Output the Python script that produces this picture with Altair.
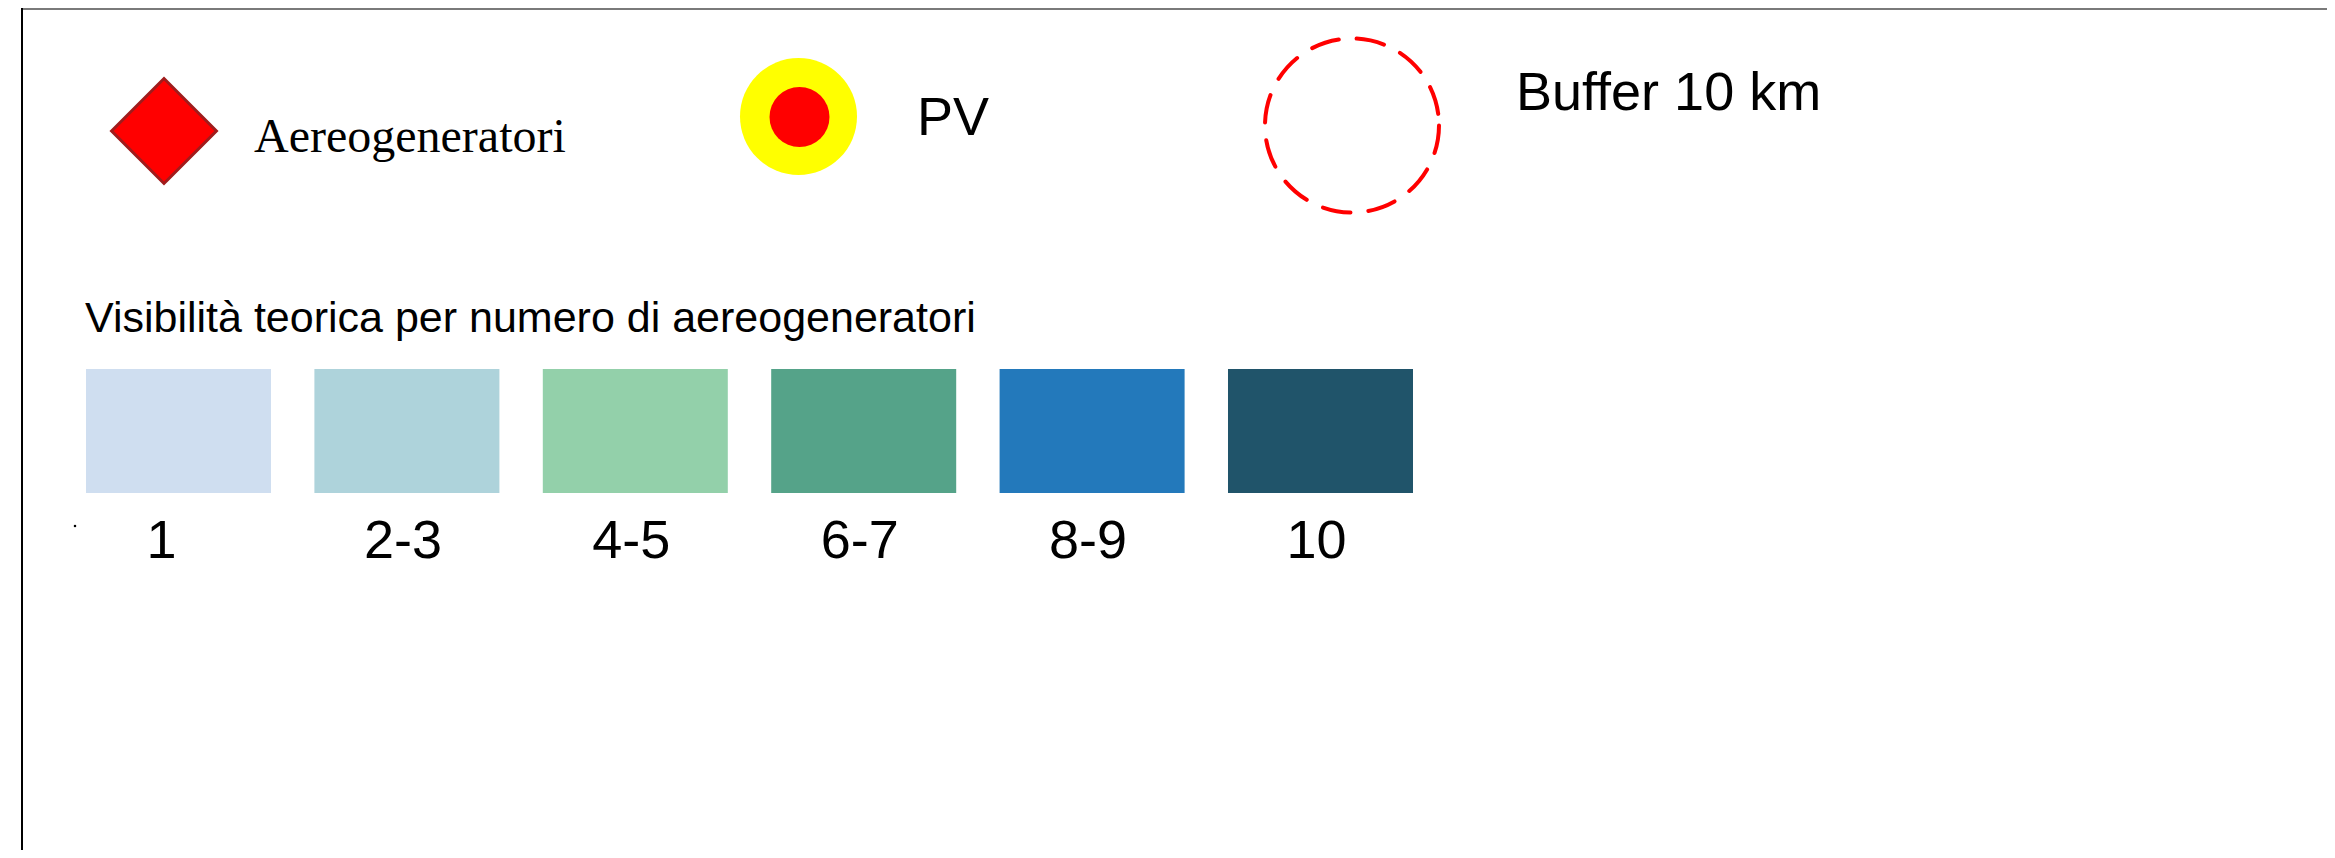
import altair as alt
import pandas as pd

# ---- content ----
classes = ["1", "2-3", "4-5", "6-7", "8-9", "10"]
class_colors = ["#cfdef0", "#aed3db", "#93d0aa", "#55a389", "#2379bb", "#20546a"]
title_text = ["Visibilità teorica per numero di aereogeneratori"]
wind_label = ["Aereogeneratori"]
pv_label = ["PV"]
buffer_label = ["Buffer 10 km"]

W, H = 2319, 842
SANS = "Liberation Sans"
SERIF = "Liberation Serif"

swatch_df = pd.DataFrame({"classe": classes})
one = lambda lst: pd.DataFrame({"label": lst})

xband = alt.X(
    "classe:N", sort=classes, axis=None,
    scale=alt.Scale(domain=classes, range=[78, 1405], paddingInner=0.19, paddingOuter=0),
)

# frame
frame_top = alt.Chart(one(["top"])).mark_rule(color="#7a7a7a", strokeWidth=2).encode(
    x=alt.value(14), x2=alt.value(W), y=alt.value(1)
)
frame_left = alt.Chart(one(["left"])).mark_rule(color="#000000", strokeWidth=2).encode(
    x=alt.value(14), y=alt.value(0), y2=alt.value(H)
)

# wind turbine symbol
diamond = alt.Chart(one(wind_label)).mark_point(
    shape="diamond", filled=True, fill="#ff0000", stroke="#a01c1c", strokeWidth=3,
    size=11000, opacity=1,
).encode(x=alt.value(156), y=alt.value(123))
wind_text = alt.Chart(one(wind_label)).mark_text(
    font=SERIF, fontSize=48, align="left", baseline="alphabetic", color="#000000"
).encode(x=alt.value(246), y=alt.value(144), text="label:N")

# PV symbol
pv_outer = alt.Chart(one(pv_label)).mark_circle(color="#ffff00", size=13689, opacity=1).encode(
    x=alt.value(790.5), y=alt.value(108.5)
)
pv_inner = alt.Chart(one(pv_label)).mark_circle(color="#ff0000", size=3600, opacity=1).encode(
    x=alt.value(791.5), y=alt.value(109)
)
pv_text = alt.Chart(one(pv_label)).mark_text(
    font=SANS, fontSize=54, align="left", baseline="alphabetic", color="#000000"
).encode(x=alt.value(909), y=alt.value(127), text="label:N")

# buffer symbol
buffer_circle = alt.Chart(one(buffer_label)).mark_point(
    shape="circle", filled=False, stroke="#ff0000", strokeWidth=4, strokeDash=[28, 18],
    strokeCap="round", size=30276, opacity=1,
).encode(x=alt.value(1344), y=alt.value(117.5))
buffer_text = alt.Chart(one(buffer_label)).mark_text(
    font=SANS, fontSize=54, align="left", baseline="alphabetic", color="#000000"
).encode(x=alt.value(1508), y=alt.value(102), text="label:N")

# visibility classes
title = alt.Chart(one(title_text)).mark_text(
    font=SANS, fontSize=43, align="left", baseline="alphabetic", color="#000000"
).encode(x=alt.value(77), y=alt.value(323.5), text="label:N")

swatches = alt.Chart(swatch_df).mark_rect().encode(
    x=xband,
    y=alt.value(361), y2=alt.value(485),
    color=alt.Color("classe:N", scale=alt.Scale(domain=classes, range=class_colors), legend=None),
)
labels_rest = alt.Chart(swatch_df).transform_filter(alt.datum.classe != classes[0]).mark_text(
    font=SANS, fontSize=54, align="center", baseline="alphabetic", dx=-4, color="#000000"
).encode(x=xband, y=alt.value(550), text="classe:N")
labels_first = alt.Chart(swatch_df).transform_filter(alt.datum.classe == classes[0]).mark_text(
    font=SANS, fontSize=54, align="center", baseline="alphabetic", dx=-17, color="#000000"
).encode(x=xband, y=alt.value(550), text="classe:N")

speck = alt.Chart(one(["."])).mark_point(shape="square", filled=True, color="#000000", size=5, opacity=1).encode(
    x=alt.value(67), y=alt.value(518)
)

chart = alt.layer(
    frame_top, frame_left, diamond, wind_text, pv_outer, pv_inner, pv_text,
    buffer_circle, buffer_text, title, swatches, labels_rest, labels_first, speck,
).properties(
    width=W, height=H, padding=0, autosize=alt.AutoSizeParams(type="none"), background="white",
).configure_view(stroke=None)

chart.save("out.html", embed_options={"renderer": "svg", "actions": False})
